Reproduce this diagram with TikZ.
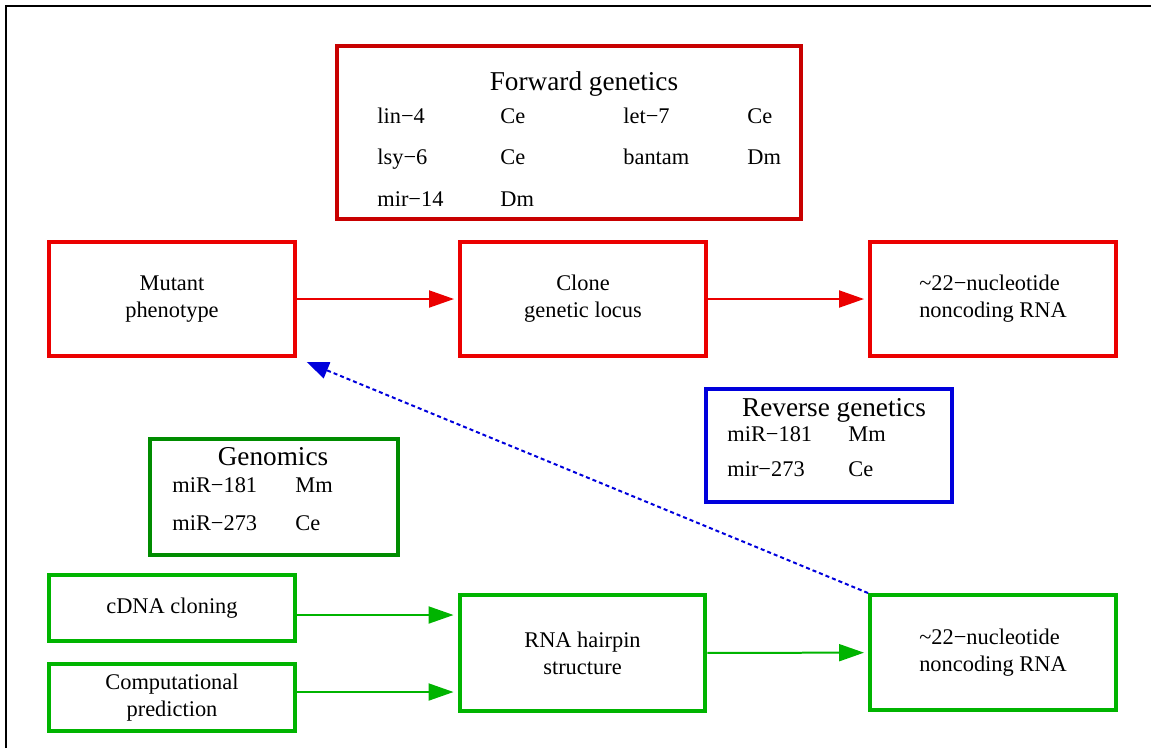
\documentclass[tikz,border=0pt]{standalone}
\usepackage{fontspec}
\setmainfont{Liberation Serif}
\usetikzlibrary{arrows.meta}
\definecolor{fwdred}{RGB}{200,0,0}
\definecolor{boxred}{RGB}{235,0,0}
\definecolor{genogreen}{RGB}{0,140,0}
\definecolor{boxgreen}{RGB}{0,180,0}
\definecolor{revblue}{RGB}{0,0,220}
\newcommand{\boxfont}{\fontsize{12.75}{15.4}\selectfont}
\newcommand{\headfont}{\fontsize{15.5}{18}\selectfont}

\begin{document}
\begin{tikzpicture}[x=0.02cm, y=-0.02cm,
  stagebox/.style={rectangle, draw=boxred, line width=0.08cm, inner sep=0pt,
                   minimum width=4.92cm, minimum height=2.28cm, align=center, font=\boxfont},
  greenbox/.style={stagebox, draw=boxgreen},
  listbox/.style={rectangle, draw, line width=0.08cm, inner sep=0pt},
  headtxt/.style={anchor=base, inner sep=0pt, font=\headfont},
  itemtxt/.style={anchor=base west, inner sep=0pt, font=\boxfont},
  redarrow/.style={-{Triangle[length=0.5cm, width=0.34cm]}, line width=0.04cm,
                   boxred, shorten >=0.08cm},
  greenarrow/.style={redarrow, boxgreen},
  backarrow/.style={-{Triangle[length=0.44cm, width=0.34cm]}, line width=0.04cm,
                    revblue, dash pattern=on 0.08cm off 0.06cm, shorten >=0.21cm}
]
  \useasboundingbox (0,0) rectangle (1151,748);
  \draw[line width=0.6pt] (6,748) -- (6,6) -- (1151,6);

  % forward genetics
  \node[listbox, draw=fwdred, minimum width=9.28cm, minimum height=3.46cm] (fwd) at (569,132.5) {};
  \node[headtxt] (fwdhead) at (584,90) {Forward genetics};
  \node[itemtxt] (lin4)   at (377,123) {lin−4};
  \node[itemtxt] (lin4sp) at (500,123) {Ce};
  \node[itemtxt] (let7)   at (623,123) {let−7};
  \node[itemtxt] (let7sp) at (747,123) {Ce};
  \node[itemtxt] (lsy6)   at (377,164) {lsy−6};
  \node[itemtxt] (lsy6sp) at (500,164) {Ce};
  \node[itemtxt] (bantam)   at (623,164) {bantam};
  \node[itemtxt] (bantamsp) at (747,164) {Dm};
  \node[itemtxt] (mir14)   at (377,206) {mir−14};
  \node[itemtxt] (mir14sp) at (500,206) {Dm};

  \node[stagebox] (mut)   at (172,299) {Mutant\\phenotype};
  \node[stagebox] (clone) at (583,299) {Clone\\genetic locus};
  \node[stagebox] (nctop) at (993,299) {\begin{tabular}{@{}l@{}}\textasciitilde 22−nucleotide\\noncoding RNA\end{tabular}};

  \draw[redarrow] (mut) -- (clone);
  \draw[redarrow] (clone) -- (nctop);

  % reverse genetics
  \node[listbox, draw=revblue, minimum width=4.92cm, minimum height=2.26cm] (rev) at (829,445.5) {};
  \node[headtxt] (revhead) at (834,416) {Reverse genetics};
  \node[itemtxt] (revmir181)   at (727,441) {miR−181};
  \node[itemtxt] (revmir181sp) at (848,441) {Mm};
  \node[itemtxt] (revmir273)   at (727,476) {mir−273};
  \node[itemtxt] (revmir273sp) at (848,476) {Ce};

  % genomics
  \node[listbox, draw=genogreen, minimum width=4.96cm, minimum height=2.32cm] (geno) at (274,497) {};
  \node[headtxt] (genohead) at (273,465) {Genomics};
  \node[itemtxt] (genmir181)   at (172,492) {miR−181};
  \node[itemtxt] (genmir181sp) at (295,492) {Mm};
  \node[itemtxt] (genmir273)   at (172,530) {miR−273};
  \node[itemtxt] (genmir273sp) at (295,530) {Ce};

  \node[greenbox, minimum height=1.32cm] (cdna) at (172,608) {cDNA cloning};
  \node[greenbox, minimum height=1.34cm] (comp) at (172,697.5) {Computational\\prediction};
  \node[greenbox, minimum height=2.32cm] (hair) at (582.5,653) {RNA hairpin\\structure};
  \node[greenbox, minimum height=2.3cm] (ncbot) at (993,652.5) {\begin{tabular}{@{}l@{}}\textasciitilde 22−nucleotide\\noncoding RNA\end{tabular}};

  \draw[greenarrow] ([yshift=-0.14cm]cdna.east) -- ([yshift=-0.14cm]cdna.east -| hair.west);
  \draw[greenarrow] ([yshift=0.11cm]comp.east) -- ([yshift=0.11cm]comp.east -| hair.west);
  \draw[greenarrow] (hair) -- (ncbot);

  \draw[backarrow] (ncbot.north west) -- (mut.south east);
\end{tikzpicture}
\end{document}
